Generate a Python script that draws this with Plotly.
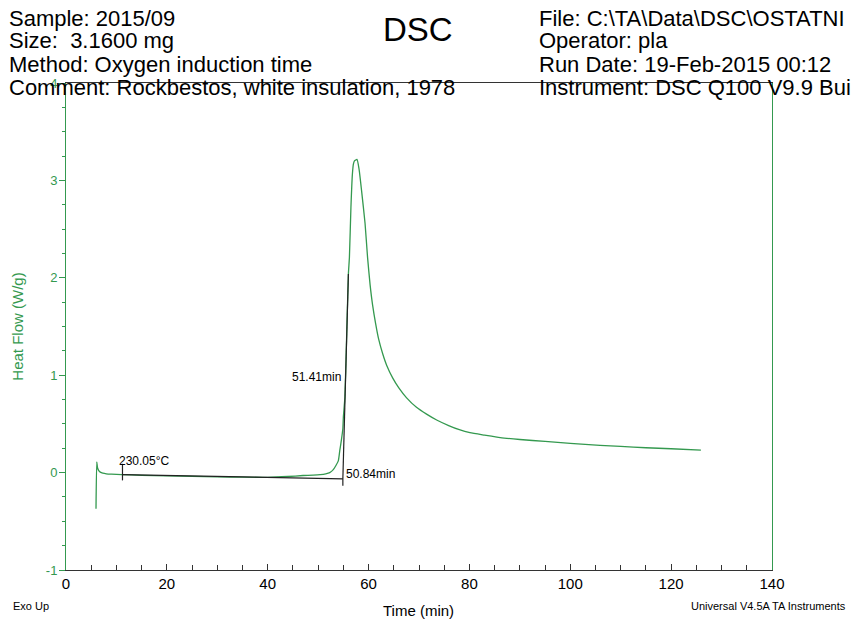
import plotly.graph_objects as go

# ---- data ----
time_min = [5.95, 6.1, 6.25, 6.5, 6.8, 7.3, 8.0, 9.0, 11.0, 15, 20, 25, 30, 35, 40, 44, 47, 49,
            50.4, 51.5, 52.3, 53.0, 53.5, 54.0, 54.3, 54.6, 54.9, 55.0, 55.3, 55.6, 56.0, 56.2,
            56.5, 56.8, 57.0, 57.2, 57.7, 58.1, 58.6, 59.3, 59.8, 60.3, 60.8, 61.4, 62.0, 62.8,
            63.6, 64.8, 66.0, 67.5, 69.5, 71.5, 73.5, 76.0, 78.0, 80.1, 83.0, 86.1, 90.0, 95.0,
            100.0, 105.9, 110.0, 115.0, 120.0, 125.9]
heat_flow = [-0.37, 0.11, 0.05, 0.02, 0.005, -0.005, -0.012, -0.016, -0.02, -0.028, -0.033, -0.038,
             -0.043, -0.047, -0.048, -0.04, -0.03, -0.025, -0.02, -0.012, 0.0, 0.03, 0.07, 0.12,
             0.23, 0.33, 0.45, 0.57, 0.77, 1.3, 2.04, 2.21, 2.72, 3.07, 3.17, 3.2, 3.215, 3.12,
             2.9, 2.56, 2.21, 1.93, 1.72, 1.53, 1.37, 1.22, 1.10, 0.97, 0.87, 0.77, 0.67, 0.60,
             0.54, 0.48, 0.44, 0.41, 0.385, 0.36, 0.34, 0.32, 0.30, 0.28, 0.27, 0.255, 0.245, 0.23]

# onset analysis construction lines
baseline_x = [11.2, 54.9]
baseline_y = [-0.02, -0.065]
tangent_x = [54.9, 56.0]
tangent_y = [-0.065, 2.04]
tick1_x = [11.2, 11.2]
tick1_y = [0.09, -0.08]
tick2_x = [54.9, 54.9]
tick2_y = [-0.065, -0.135]

x_ticks = [0, 20, 40, 60, 80, 100, 120, 140]
y_ticks = [-1, 0, 1, 2, 3, 4]

GREEN = "#34994f"
FONT = "Liberation Sans, Arial, sans-serif"
NARROW = "Liberation Sans Narrow, Arial Narrow, Liberation Sans, Arial, sans-serif"

fig = go.Figure()
fig.add_trace(go.Scatter(x=time_min, y=heat_flow, mode="lines",
                         line=dict(color=GREEN, width=1.3, shape="spline", smoothing=0.5),
                         hoverinfo="skip", showlegend=False))
for xs, ys in [(baseline_x, baseline_y), (tangent_x, tangent_y), (tick1_x, tick1_y), (tick2_x, tick2_y)]:
    fig.add_trace(go.Scatter(x=xs, y=ys, mode="lines", line=dict(color="#222222", width=1.2),
                             hoverinfo="skip", showlegend=False))

# page body has an 8px margin: work in reference pixels, shift by 8
OFF = 8
W, H = 864 - OFF, 619 - OFF
L, T = 66 - OFF, 83 - OFF
PW, PH = 706, 487
R = W - L - PW
B = H - T - PH


def px(p):
    return (p - OFF - L) / PW


def py(p):
    return (H - B - (p - OFF)) / PH


annos = []
left_lines = ["Sample: 2015/09", "Size:  3.1600 mg", "Method: Oxygen induction time",
              "Comment: Rockbestos, white insulation, 1978"]
right_lines = ["File: C:\\TA\\Data\\DSC\\OSTATNI", "Operator: pla", "Run Date: 19-Feb-2015 00:12",
               "Instrument: DSC Q100 V9.9 Bui"]
ys_pix = [18, 41, 64, 87]
for t, yp in zip(left_lines, ys_pix):
    annos.append(dict(text=t, x=px(7), y=py(yp), xref="paper", yref="paper", xanchor="left",
                      yanchor="middle", showarrow=False, font=dict(family=FONT, size=22, color="black")))
for t, yp in zip(right_lines, ys_pix):
    annos.append(dict(text=t, x=px(537), y=py(yp), xref="paper", yref="paper", xanchor="left",
                      yanchor="middle", showarrow=False, font=dict(family=FONT, size=22, color="black")))
annos.append(dict(text="DSC", x=px(418), y=py(29), xref="paper", yref="paper", xanchor="center",
                  yanchor="middle", showarrow=False, font=dict(family=FONT, size=33, color="black")))
annos.append(dict(text="Exo Up", x=px(11), y=py(606), xref="paper", yref="paper", xanchor="left",
                  yanchor="middle", showarrow=False, font=dict(family=NARROW, size=11, color="black")))
annos.append(dict(text="Universal V4.5A TA Instruments", x=px(848), y=py(606), xref="paper", yref="paper",
                  xanchor="right", yanchor="middle", showarrow=False,
                  font=dict(family=NARROW, size=11, color="black")))
annos.append(dict(text="Time (min)", x=px(418), y=py(610), xref="paper", yref="paper", xanchor="center",
                  yanchor="middle", showarrow=False, font=dict(family=NARROW, size=15, color="black")))
# analysis labels
annos.append(dict(text="230.05°C", x=11.2 - 1.0, y=0.12, xanchor="left", yanchor="middle",
                  showarrow=False, font=dict(family=FONT, size=12, color="black")))
annos.append(dict(text="50.84min", x=55.2, y=-0.01, xanchor="left", yanchor="middle",
                  showarrow=False, font=dict(family=FONT, size=12, color="black")))
annos.append(dict(text="51.41min", x=55.0, y=0.98, xanchor="right", yanchor="middle",
                  showarrow=False, font=dict(family=FONT, size=12, color="black")))

fig.update_layout(
    width=W, height=H,
    margin=dict(l=L, r=R, t=T, b=B, autoexpand=False),
    paper_bgcolor="white", plot_bgcolor="white",
    showlegend=False,
    annotations=annos,
    xaxis=dict(range=[0, 140], tickvals=x_ticks, ticktext=[str(v) for v in x_ticks],
               showgrid=False, zeroline=False, showline=True, linecolor="#333333", linewidth=1,
               mirror=True, ticks="inside", ticklen=6, tickcolor="#333333", automargin=False,
               tickfont=dict(family=NARROW, size=15, color="black"),
               minor=dict(dtick=5, ticks="inside", ticklen=5, tickcolor="#333333"),
               fixedrange=True),
    yaxis=dict(range=[-1, 4], tickvals=y_ticks, ticktext=[str(v) for v in y_ticks],
               showgrid=False, zeroline=False, showline=True, linecolor=GREEN, linewidth=1,
               mirror=True, ticks="outside", ticklen=6, tickcolor=GREEN, automargin=False,
               ticklabelstandoff=-1,
               tickfont=dict(family=FONT, size=13, color=GREEN),
               minor=dict(dtick=0.25, ticks="outside", ticklen=3, tickcolor=GREEN),
               title=dict(text="Heat Flow (W/g)", font=dict(family=FONT, size=15, color=GREEN),
                          standoff=18),
               fixedrange=True),
)

fig.write_html("out.html")
